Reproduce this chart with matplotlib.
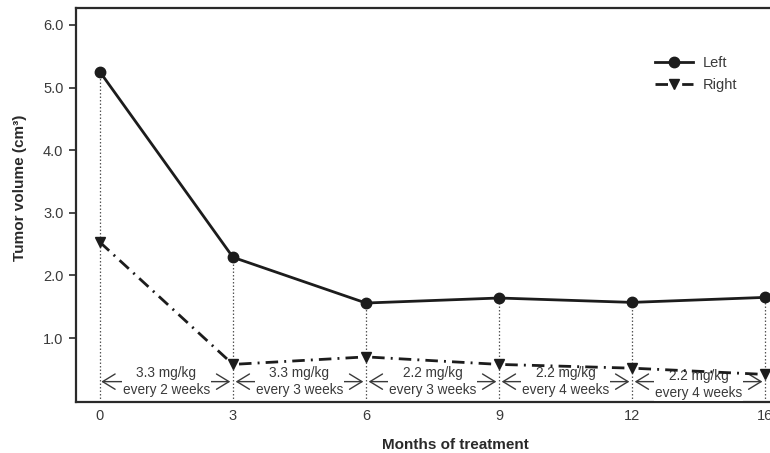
import numpy as np
import matplotlib
matplotlib.use("Agg")
import matplotlib.pyplot as plt

plt.rcParams['font.family'] = ['Liberation Sans', 'DejaVu Sans']

# data
months = ['0', '3', '6', '9', '12', '16']
left_vol = [5.25, 2.29, 1.56, 1.64, 1.57, 1.65]
right_vol = [2.53, 0.58, 0.70, 0.58, 0.52, 0.42]
doses = ['3.3 mg/kg\nevery 2 weeks', '3.3 mg/kg\nevery 3 weeks',
         '2.2 mg/kg\nevery 3 weeks', '2.2 mg/kg\nevery 4 weeks',
         '2.2 mg/kg\nevery 4 weeks']

pos = np.arange(len(months))
ink = '#1c1c1c'
grey = '#3a3a3a'

fig = plt.figure(figsize=(7.7, 4.53), dpi=100)
ax = fig.add_axes([0.0987, 0.1126, 0.926, 0.8698])
ymin, ymax = -0.02, 6.27
ax.set_xlim(-0.18, 5.18)
ax.set_ylim(ymin, ymax)

# dotted drop lines from the Left points to the axis
ax.vlines(pos, ymin, left_vol, colors='#555555', linestyles=(0, (1.2, 1.6)),
          lw=0.9, zorder=1)

# dosing intervals
arrow_y = 0.305
for i, txt in enumerate(doses):
    x0 = pos[i] + (0.01 if i == 0 else 0.02)
    x1 = pos[i + 1] - 0.02
    ax.annotate('', xy=(x1, arrow_y), xytext=(x0, arrow_y),
                arrowprops=dict(arrowstyle='<->,head_length=0.9,head_width=0.55',
                                lw=1.0, color=grey, shrinkA=0, shrinkB=0),
                zorder=2)
    ty = arrow_y - (0.05 if i == len(doses) - 1 else 0.0)
    ax.text((pos[i] + pos[i + 1]) / 2, ty, txt, ha='center', va='center',
            fontsize=9.8, color=grey, linespacing=1.25, zorder=3,
            bbox=dict(facecolor='white', edgecolor='none', pad=0.5))

ax.plot(pos, left_vol, color=ink, lw=2.0, marker='o', ms=7.5,
        label='Left', zorder=5)
ax.plot(pos, right_vol, color=ink, lw=2.0, marker='v', ms=7.5,
        dashes=(4.5, 2.2, 0.7, 2.2), label='Right', zorder=5)

ax.set_xticks(pos)
ax.set_xticklabels(months)
ax.set_yticks([1, 2, 3, 4, 5, 6])
ax.set_yticklabels(['1.0', '2.0', '3.0', '4.0', '5.0', '6.0'])
ax.tick_params(axis='x', length=0, pad=5, labelsize=10.5, labelcolor=grey)
ax.tick_params(axis='y', length=5, width=1.3, color=grey, pad=4,
               labelsize=10.5, labelcolor=grey)

for s in ax.spines.values():
    s.set_linewidth(1.6)
    s.set_color('#2a2a2a')

ax.set_ylabel('Tumor volume (cm³)', fontsize=11, fontweight='bold', color='#2a2a2a')
ax.yaxis.set_label_coords(-0.069, 0.543)
ax.set_xlabel('Months of treatment', fontsize=11, fontweight='bold', color='#2a2a2a')
ax.xaxis.set_label_coords(0.532, -0.091)

ax.legend(loc='upper left', bbox_to_anchor=(0.812, 0.878), frameon=False,
          borderaxespad=0, borderpad=0, handlelength=2.6, handletextpad=0.7,
          labelspacing=0.55, fontsize=10.5, labelcolor=grey)

fig.savefig('out.png', dpi=100)
